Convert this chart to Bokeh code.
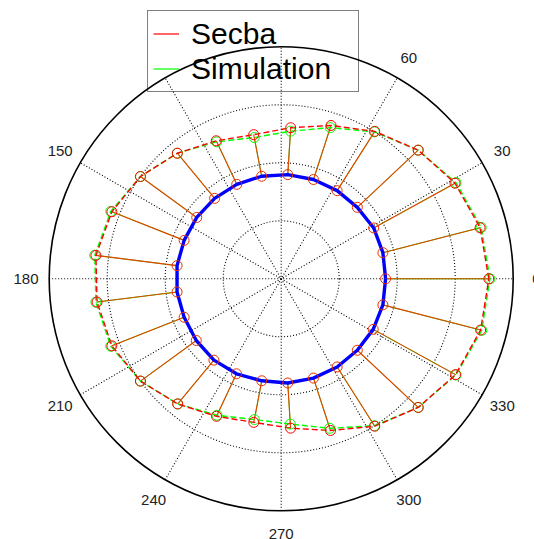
import numpy as np
from bokeh.plotting import figure
from bokeh.models import Range1d, Legend, LegendItem
from bokeh.core.properties import value
from bokeh.embed import file_html
from bokeh.resources import INLINE

# ---- data (angles in degrees, radii in chart units) ----
angles_deg = [0.0, 14.4, 28.8, 43.2, 57.6, 72.0, 86.4, 100.8, 115.2, 129.6,
              144.0, 158.4, 172.8, 187.2, 201.6, 216.0, 230.4, 244.8, 259.2,
              273.6, 288.0, 302.4, 316.8, 331.2, 345.6]
inner_r = [1.80, 1.81, 1.82, 1.80, 1.80, 1.80, 1.80, 1.80, 1.80, 1.80,
           1.80, 1.80, 1.81, 1.81, 1.80, 1.81, 1.82, 1.81, 1.79, 1.80,
           1.80, 1.80, 1.80, 1.81, 1.81]
secba_r = [3.58, 3.54, 3.42, 3.24, 3.01, 2.78, 2.61, 2.53, 2.63, 2.81,
           3.00, 3.14, 3.22, 3.20, 3.14, 3.00, 2.80, 2.62, 2.52, 2.58,
           2.75, 3.01, 3.24, 3.43, 3.55]
sim_r = [3.60, 3.56, 3.44, 3.24, 3.00, 2.74, 2.55, 2.48, 2.61, 2.81,
         3.00, 3.16, 3.24, 3.22, 3.16, 3.00, 2.80, 2.60, 2.47, 2.51,
         2.71, 3.00, 3.24, 3.44, 3.57]
tick_angles = [0, 30, 60, 90, 120, 150, 180, 210, 240, 270, 300, 330]
tick_labels = ["0", "30", "60", "90", "120", "150", "180", "210", "240", "270", "300", "330"]
ring_r = [1, 2, 3]
r_max = 4
label_r = 4.4

# pixel geometry of the polar frame
CX, CY, PX = 280.7, 278.3, 58.0
W, H = 534, 539

def dx(px):
    return (px - CX) / PX

def dy(py):
    return (CY - py) / PX

th = np.deg2rad(np.array(angles_deg))
def xy(r):
    r = np.array(r)
    return r * np.cos(th), r * np.sin(th)

xi, yi = xy(inner_r)
xs, ys = xy(secba_r)
xm, ym = xy(sim_r)

def closed(a):
    return np.append(a, a[0])

p = figure(width=W, height=H, x_range=Range1d(dx(0), dx(W)),
           y_range=Range1d(dy(H), dy(0)), output_backend="svg",
           toolbar_location=None, min_border=0, x_axis_type=None, y_axis_type=None)
p.grid.visible = False
p.outline_line_color = None
p.background_fill_color = "white"

# tick labels
ta = np.deg2rad(np.array(tick_angles))
p.text(x=label_r * np.cos(ta), y=label_r * np.sin(ta), text=tick_labels,
       text_align="center", text_baseline="middle", text_font=value("Liberation Sans"),
       text_font_size="15px", text_color="#222222")

# white legend backdrop (covers the labels behind the legend)
p.quad(left=[dx(135)], right=[dx(357)], top=[dy(12)], bottom=[dy(92)],
       fill_color="white", line_color=None)

# grid rings
p.circle(x=[0] * len(ring_r), y=[0] * len(ring_r), radius=ring_r, fill_color=None,
         line_color="black", line_width=1.1, line_dash="1 2")
# spokes
sp = np.deg2rad(np.array([0, 30, 60, 90, 120, 150]))
p.segment(x0=-r_max * np.cos(sp), y0=-r_max * np.sin(sp), x1=r_max * np.cos(sp), y1=r_max * np.sin(sp),
          line_color="black", line_width=1.1, line_dash="1 2")
# outer boundary
p.circle(x=[0], y=[0], radius=[r_max], fill_color=None, line_color="black", line_width=1.6)

# stems
p.segment(x0=xi, y0=yi, x1=xm, y1=ym, line_color="#00ff00", line_width=1)
p.segment(x0=xi, y0=yi, x1=xs, y1=ys, line_color="#e84000", line_width=1.1)

# outer dashed lines
p.line(closed(xm), closed(ym), line_color="#00ff00", line_width=1.4, line_dash="6 3")
p.line(closed(xs), closed(ys), line_color="#ff0000", line_width=1.4, line_dash="6 3")

# inner blue circle
p.line(closed(xi), closed(yi), line_color="#0000ff", line_width=3.4)

# markers
p.scatter(xm, ym, marker="circle", size=10, fill_color=None, line_color="#00ff00", line_width=1)
p.scatter(xs, ys, marker="circle", size=10, fill_color=None, line_color="#ff0000", line_width=1)
p.scatter(xi, yi, marker="circle", size=10, fill_color=None, line_color="#e83000", line_width=1)

# legend sample renderers (one point each, draws nothing in the plot)
leg_red = p.line([0], [0], line_color="#ff0000", line_width=1.2)
leg_green = p.line([0], [0], line_color="#00ff00", line_width=1.2)

legend = Legend(items=[LegendItem(label="Secba", renderers=[leg_red]),
                       LegendItem(label="Simulation", renderers=[leg_green])],
                location=(147, H - 92), orientation="vertical", padding=5, spacing=0, margin=0,
                glyph_width=26, glyph_height=35, label_height=35, label_width=162,
                label_standoff=12, label_text_font="Liberation Sans", label_text_font_size="30px",
                label_text_baseline="middle", label_text_color="black",
                border_line_color="black", border_line_width=1,
                background_fill_alpha=0)
p.add_layout(legend)

open("out.html", "w").write(file_html(p, INLINE))
